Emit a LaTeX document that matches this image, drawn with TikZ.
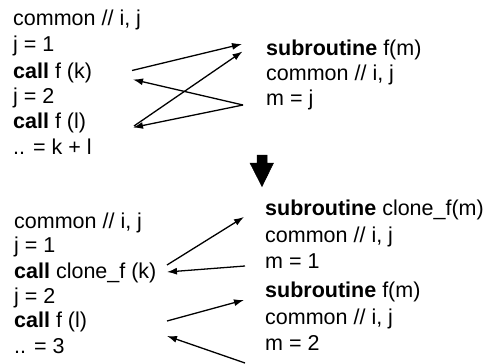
\documentclass[tikz,border=0pt]{standalone}
\usepackage{fontspec}
\setmainfont{Liberation Sans}
\usetikzlibrary{arrows.meta}
\begin{document}
\begin{tikzpicture}[x=1pt,y=-1pt,
  code/.style={anchor=base west,inner sep=0pt,font=\fontsize{21.5}{25}\selectfont},
  link/.style={line width=1.3pt,-{Latex[length=10pt,width=7pt]}},
  bigarrow/.style={fill=black,draw=black,line width=0.5pt}]
\useasboundingbox (0,0) rectangle (499,364);
% top left
\node[code] (a1) at (13,26) {common // i, j};
\node[code] (a2) at (13,52) {j = 1};
\node[code] (a3) at (13,78) {\textbf{call} f (k)};
\node[code] (a4) at (13,103) {j = 2};
\node[code] (a5) at (13,128) {\textbf{call} f (l)};
\node[code] (a6) at (13,154) {.. = k + l};
% top right
\node[code] (b1) at (266,55) {\textbf{subroutine} f(m)};
\node[code] (b2) at (266,80) {common // i, j};
\node[code] (b3) at (266,105) {m = j};
% top connectors
\coordinate (kout) at (132,70.5);
\coordinate (kin) at (133,79.5);
\coordinate (lout) at (134,126);
\coordinate (lin) at (133,127.5);
\coordinate (fin1) at (242,44);
\coordinate (fin2) at (242.5,51.5);
\coordinate (fret) at (243,105);
\draw[link] (kout) -- (fin1);
\draw[link] (lout) -- (fin2);
\draw[link] (fret) -- (kin);
\draw[link] (fret) -- (lin);
% big arrow
\draw[bigarrow] (257,155) -- (267,155) -- (267,163) -- (273.5,163) -- (262,186.5) -- (250,163) -- (257,163) -- cycle;
% bottom left
\node[code] (c1) at (14,228) {common // i, j};
\node[code] (c2) at (14,252) {j = 1};
\node[code] (c3) at (14,278) {\textbf{call} clone\_f (k)};
\node[code] (c4) at (14,303) {j = 2};
\node[code] (c5) at (14,327) {\textbf{call} f (l)};
\node[code] (c6) at (14,353) {.. = 3};
% bottom right
\node[code] (d1) at (265,215) {\textbf{subroutine} clone\_f(m)};
\node[code] (d2) at (265,242) {common // i, j};
\node[code] (d3) at (265,268) {m = 1};
\node[code] (e1) at (265,297) {\textbf{subroutine} f(m)};
\node[code] (e2) at (265,324) {common // i, j};
\node[code] (e3) at (265,350) {m = 2};
% bottom connectors
\coordinate (ckout) at (167,265);
\coordinate (ckin) at (167,272);
\coordinate (cfin) at (244,217);
\coordinate (cfret) at (245,266);
\coordinate (flout) at (167,321);
\coordinate (flin) at (167,336);
\coordinate (ffin) at (244,300);
\coordinate (ffret) at (245,363);
\draw[link] (ckout) -- (cfin);
\draw[link] (cfret) -- (ckin);
\draw[link] (flout) -- (ffin);
\draw[link] (ffret) -- (flin);
\end{tikzpicture}
\end{document}
